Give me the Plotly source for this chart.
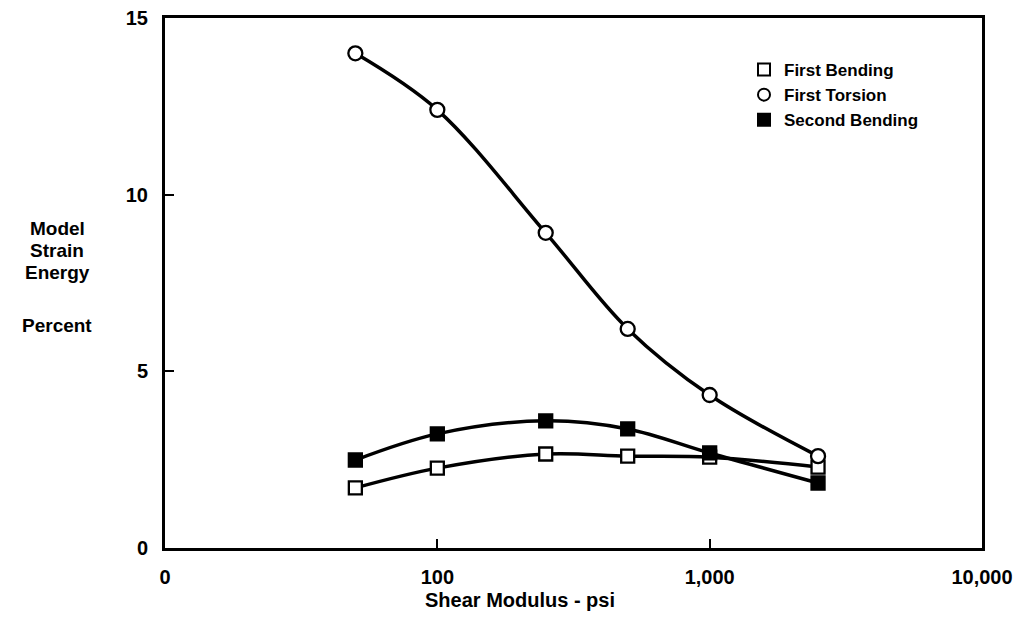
import plotly.graph_objects as go

shear_modulus = [50, 100, 250, 500, 1000, 2500]
first_bending = [1.70, 2.26, 2.66, 2.60, 2.57, 2.29]
first_torsion = [14.0, 12.4, 8.92, 6.2, 4.33, 2.60]
second_bending = [2.49, 3.23, 3.60, 3.37, 2.69, 1.84]

x_tickvals = [10, 100, 1000, 10000]
x_ticktext = ["0", "100", "1,000", "10,000"]
y_tickvals = [0, 5, 10, 15]

series = [
    ("First Bending", first_bending, "square", "white"),
    ("First Torsion", first_torsion, "circle", "white"),
    ("Second Bending", second_bending, "square", "black"),
]

FONT = "Liberation Sans, Arial, sans-serif"
W, H = 1018, 628
L, R, T, B = 165, 36, 18, 80
PW, PH = W - L - R, H - T - B


def px_x(x):
    return (x - L) / PW


def px_y(y):
    return (T + PH - y) / PH


fig = go.Figure()
for name, vals, sym, fill in series:
    fig.add_trace(go.Scatter(
        x=shear_modulus, y=vals, mode="lines",
        line=dict(color="black", width=3.5, shape="spline", smoothing=1.0),
        showlegend=False, hoverinfo="skip"))
for name, vals, sym, fill in series:
    fig.add_trace(go.Scatter(
        x=shear_modulus, y=vals, mode="markers", name=name,
        marker=dict(symbol=sym, size=13 if sym == "square" else 14, color=fill,
                    line=dict(color="black", width=2.3)),
        showlegend=True))


def ann(text, x, y, size=19):
    return dict(text=f"<b>{text}</b>", xref="paper", yref="paper",
                x=px_x(x), y=px_y(y), xanchor="center", yanchor="middle",
                showarrow=False, font=dict(size=size, family=FONT))


fig.update_layout(
    width=W, height=H,
    margin=dict(l=L, r=R, t=T, b=B, autoexpand=False),
    plot_bgcolor="white", paper_bgcolor="white",
    font=dict(family=FONT, color="black", size=17),
    legend=dict(x=px_x(744), y=px_y(52), xanchor="left", yanchor="top",
                bgcolor="rgba(0,0,0,0)", font=dict(size=17, family=FONT, weight="bold"),
                itemsizing="constant", tracegroupgap=0),
    xaxis=dict(type="log", range=[1, 4], tickvals=x_tickvals, ticktext=x_ticktext,
               ticks="inside", ticklen=9, tickwidth=2, tickcolor="black",
               showline=True, linecolor="black", linewidth=3, mirror=True,
               showgrid=False, zeroline=False, ticklabelstandoff=9, automargin=False,
               ticklabeloverflow="allow",
               tickfont=dict(size=20, family=FONT, weight="bold")),
    yaxis=dict(range=[0, 15], tickvals=y_tickvals,
               ticks="inside", ticklen=9, tickwidth=2, tickcolor="black",
               showline=True, linecolor="black", linewidth=3, mirror=True,
               showgrid=False, zeroline=False, ticklabelstandoff=10, automargin=False,
               ticklabeloverflow="allow",
               tickfont=dict(size=20, family=FONT, weight="bold")),
    annotations=[
        ann("Model", 57, 228),
        ann("Strain", 57, 250),
        ann("Energy", 57, 272),
        ann("Percent", 57, 325),
        ann("Shear Modulus - psi", 520, 600, size=20),
    ],
)

fig.write_html(
    "out.html",
    config={"displayModeBar": False},
    post_script="document.body.style.margin='0px';document.body.style.overflow='hidden';",
)
